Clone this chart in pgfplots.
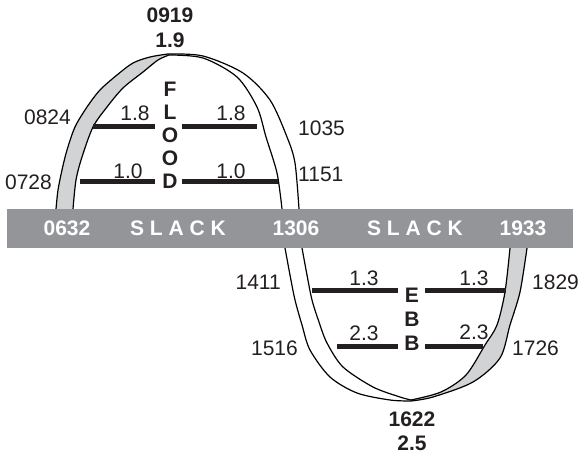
\documentclass[border=0pt]{standalone}
\usepackage{fontspec}
\setmainfont{Liberation Sans}
\usepackage{pgfplots}
\pgfplotsset{compat=1.18}
\usepgfplotslibrary{fillbetween}
\definecolor{bargray}{HTML}{939598}
\definecolor{cresc}{HTML}{D1D3D4}
\definecolor{ink}{HTML}{231F20}
\pgfplotsset{
  curve/.style={black, line width=1.2pt, smooth, no markers},
  speed/.style={ink, line width=5pt, no markers},
}
\tikzset{
  lbl/.style={font=\fontsize{21}{25}\selectfont, inner sep=0pt, text=ink},
  blbl/.style={lbl, font=\fontsize{21}{25}\selectfont\bfseries},
  wlbl/.style={blbl, text=white},
}

\begin{document}
\begin{tikzpicture}
\begin{axis}[
  width=579pt, height=456pt, scale only axis,
  xmin=0, xmax=579, ymin=0, ymax=456, y dir=reverse,
  hide axis, clip=false,
]
\coordinate (bbsw) at (axis cs:0,456);
\coordinate (bbne) at (axis cs:579,0);
% flood half (above the bar)
\addplot[curve, name path=fol] coordinates {(56,209) (58,190) (62,170) (67,150) (75,127) (87,107) (100,90) (117,75) (133,63) (150,57) (168,54)};
\addplot[curve, name path=fil] coordinates {(73,209) (76,180) (82,157) (93,127) (107,107) (123,88) (143,72) (158,60) (169,55)};
\addplot[curve] coordinates {(169,55) (203,58) (237,77) (257,107) (266,137) (277,173) (282,209)};
\addplot[curve] coordinates {(168,54) (203,56) (243,73) (270,100) (287,137) (295,163) (299,209)};
\addplot[cresc] fill between[of=fol and fil];

% ebb half (below the bar)
\addplot[curve] coordinates {(285,248) (290,275) (295,300) (302,325) (310,350) (330,377) (357,393) (390,400) (411,401)};
\addplot[curve] coordinates {(302,248) (307,275) (312,300) (319,322) (327,343) (343,367) (373,387) (400,397) (411,400)};
\addplot[curve, name path=eir] coordinates {(411,400) (441,392) (466,375) (485,345) (497,325) (505,292) (510,248)};
\addplot[curve, name path=eor] coordinates {(411,401) (433,397) (473,382) (500,358) (510,325) (520,292) (527,248)};
\addplot[cresc] fill between[of=eor and eir];

% speed bars
\addplot[speed] coordinates {(93,127) (155,127)};
\addplot[speed] coordinates {(182,127) (257,127)};
\addplot[speed] coordinates {(80,182) (155,182)};
\addplot[speed] coordinates {(182,182) (278,182)};
\addplot[speed] coordinates {(312,291) (398,291)};
\addplot[speed] coordinates {(425,291) (506,291)};
\addplot[speed] coordinates {(337,346) (398,346)};
\addplot[speed] coordinates {(425,346) (483,346)};

% slack bar
\addplot[fill=bargray, draw=none] coordinates {(7,209) (573,209) (573,248) (7,248)} -- cycle;

% labels
\node[blbl] at (axis cs:170,15) {0919};
\node[blbl] at (axis cs:170,40) {1.9};
\node[blbl] at (axis cs:412,419) {1622};
\node[blbl] at (axis cs:412,443) {2.5};

\node[lbl, anchor=east] at (axis cs:71,117) {0824};
\node[lbl, anchor=east] at (axis cs:52,182) {0728};
\node[lbl, anchor=west] at (axis cs:298,128) {1035};
\node[lbl, anchor=west] at (axis cs:298,174) {1151};
\node[lbl, anchor=east] at (axis cs:281,282) {1411};
\node[lbl, anchor=east] at (axis cs:298,348) {1516};
\node[lbl, anchor=west] at (axis cs:532,282) {1829};
\node[lbl, anchor=west] at (axis cs:512,348) {1726};

\node[lbl] at (axis cs:135,113) {1.8};
\node[lbl] at (axis cs:231,113) {1.8};
\node[lbl] at (axis cs:128,171) {1.0};
\node[lbl] at (axis cs:231,171) {1.0};
\node[lbl] at (axis cs:364,278) {1.3};
\node[lbl] at (axis cs:474,278) {1.3};
\node[lbl] at (axis cs:364,333) {2.3};
\node[lbl] at (axis cs:474,332) {2.3};

\node[blbl] at (axis cs:170,89) {F};
\node[blbl] at (axis cs:170,112) {L};
\node[blbl] at (axis cs:170,135) {O};
\node[blbl] at (axis cs:170,158) {O};
\node[blbl] at (axis cs:170,181) {D};
\node[blbl] at (axis cs:412,295) {E};
\node[blbl] at (axis cs:412,319) {B};
\node[blbl] at (axis cs:412,343) {B};

\node[wlbl] at (axis cs:67,228) {0632};
\node[wlbl] at (axis cs:178,228) {S L A C K};
\node[wlbl] at (axis cs:296,228) {1306};
\node[wlbl] at (axis cs:415,228) {S L A C K};
\node[wlbl] at (axis cs:523,228) {1933};
\end{axis}
\pgfresetboundingbox
\useasboundingbox (bbsw) rectangle (bbne);
\end{tikzpicture}
\end{document}
